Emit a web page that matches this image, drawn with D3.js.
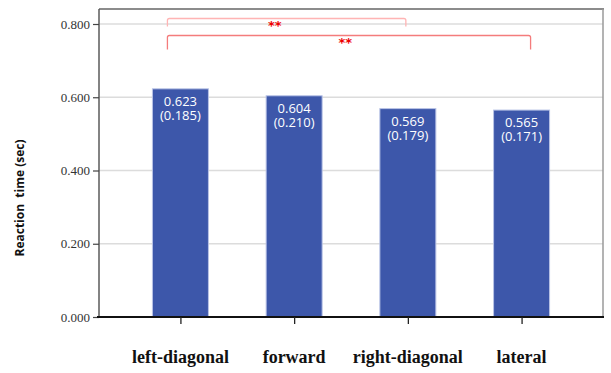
<!DOCTYPE html>
<html>
<head>
<meta charset="utf-8">
<script src="https://cdn.jsdelivr.net/npm/d3@7"></script>
<style>
  html, body { margin: 0; padding: 0; background: #fff; }
  svg { display: block; }
</style>
</head>
<body>
<svg id="chart" width="611" height="373"></svg>
<script>
// Mean reaction time per direction, with standard deviation in parentheses
const categories = ["left-diagonal", "forward", "right-diagonal", "lateral"];
const means = [0.623, 0.604, 0.569, 0.565];
const sds = [0.185, 0.210, 0.179, 0.171];
const yTicks = [0, 0.2, 0.4, 0.6, 0.8];
const yTickLabels = ["0.000", "0.200", "0.400", "0.600", "0.800"];
// Significant pairwise comparisons (index pairs into categories)
const sigFrom = [0, 0];
const sigTo = [2, 3];
const sigMarks = ["**", "**"];

const svg = d3.select("#chart");
const plot = { left: 99, right: 603, top: 9, bottom: 317 };
const serif = "'Liberation Serif', 'Times New Roman', Times, serif";
const sans = "'Open Sans', 'Noto Sans', sans-serif";

const y = d3.scaleLinear().domain([0, 0.8]).range([plot.bottom, 24]);
const x = d3.scalePoint().domain(categories).range([plot.left, plot.right]).padding(0.716);
const barW = 57;

// gridlines
svg.append("g")
  .selectAll("line")
  .data(yTicks.filter(d => d > 0))
  .join("line")
  .attr("x1", plot.left).attr("x2", plot.right)
  .attr("y1", d => y(d)).attr("y2", d => y(d))
  .attr("stroke", "#dcdcdc").attr("stroke-width", 1.5);

// frame: top and right
svg.append("line").attr("x1", plot.left).attr("x2", plot.right + 1)
  .attr("y1", plot.top).attr("y2", plot.top)
  .attr("stroke", "#8c8c8c").attr("stroke-width", 2);
svg.append("line").attr("x1", plot.right).attr("x2", plot.right)
  .attr("y1", plot.top).attr("y2", plot.bottom)
  .attr("stroke", "#9a9a9a").attr("stroke-width", 1.5);

// bars
svg.append("g")
  .selectAll("rect")
  .data(categories)
  .join("rect")
  .attr("x", (d) => x(d) - barW / 2 + 0.5)
  .attr("width", barW - 1)
  .attr("y", (d, i) => y(means[i]))
  .attr("height", (d, i) => plot.bottom - y(means[i]))
  .attr("fill", "#3d57aa")
  .attr("stroke", "#b9c3e6")
  .attr("stroke-width", 1);

// value labels inside the bars: mean on the first line, SD below
const lbl = svg.append("g")
  .attr("font-family", sans)
  .attr("font-size", 13)
  .attr("fill", "#ffffff")
  .attr("text-anchor", "middle");
const lt = lbl.selectAll("text")
  .data(categories)
  .join("text")
  .attr("x", d => x(d))
  .attr("y", (d, i) => y(means[i]) + 17);
lt.append("tspan")
  .attr("x", d => x(d))
  .text((d, i) => means[i].toFixed(3));
lt.append("tspan")
  .attr("x", d => x(d))
  .attr("dy", 14)
  .text((d, i) => "(" + sds[i].toFixed(3) + ")");

// y axis
const yAxis = svg.append("g")
  .attr("transform", `translate(${plot.left},0)`)
  .call(d3.axisLeft(y).tickValues(yTicks).tickSize(6).tickPadding(3)
    .tickFormat((d, i) => yTickLabels[i]));
yAxis.select(".domain").attr("d", `M0,${plot.top}V${plot.bottom}`)
  .attr("stroke", "#5a5a5a").attr("stroke-width", 1.5);
yAxis.selectAll(".tick line").attr("stroke", "#444").attr("stroke-width", 1.2);
yAxis.selectAll(".tick text")
  .attr("font-family", serif)
  .attr("font-size", 13).attr("fill", "#333");

// x axis
const xAxis = svg.append("g")
  .attr("transform", `translate(0,${plot.bottom})`)
  .call(d3.axisBottom(x).tickSize(7).tickFormat(""));
xAxis.select(".domain").attr("d", `M${plot.left - 2},0H${plot.right + 1}`)
  .attr("stroke", "#111").attr("stroke-width", 2.2);
xAxis.selectAll(".tick line").attr("stroke", "#222").attr("stroke-width", 1.3);

// category labels
svg.append("g")
  .selectAll("text")
  .data(categories)
  .join("text")
  .attr("x", d => x(d))
  .attr("y", 363)
  .attr("text-anchor", "middle")
  .attr("font-family", serif)
  .attr("font-weight", "bold")
  .attr("font-size", 18)
  .attr("fill", "#111")
  .text(d => d);

// y axis title
svg.append("text")
  .attr("transform", "translate(24,198) rotate(-90)")
  .attr("text-anchor", "middle")
  .attr("font-family", sans)
  .attr("font-weight", "bold")
  .attr("font-size", 12)
  .attr("fill", "#111")
  .style("white-space", "pre")
  .text("Reaction  time (sec)");

// significance brackets
const brTop = [18.5, 35.5];
const brLeg = [8, 14];
const brColor = ["#ffb4b4", "#f47c7c"];
const brOffL = [-13, -13];
const brOffR = [-2, 9];
const brStarX = [0.45, 0.49];
const sig = svg.append("g");
sigFrom.forEach((f, i) => {
  const x1 = x(categories[f]) + brOffL[i];
  const x2 = x(categories[sigTo[i]]) + brOffR[i];
  const t = brTop[i];
  sig.append("path")
    .attr("d", `M${x1},${t + brLeg[i]}V${t + 2}Q${x1},${t} ${x1 + 2},${t}H${x2 - 2}Q${x2},${t} ${x2},${t + 2}V${t + brLeg[i]}`)
    .attr("fill", "none")
    .attr("stroke", brColor[i])
    .attr("stroke-width", 1.3);
  sig.append("text")
    .attr("x", x1 + (x2 - x1) * brStarX[i])
    .attr("y", t + 11)
    .attr("text-anchor", "middle")
    .attr("font-family", "'DejaVu Sans', sans-serif")
    .attr("font-weight", "bold")
    .attr("font-size", 13)
    .attr("fill", "#ee0000")
    .text(sigMarks[i]);
});
</script>
</body>
</html>
